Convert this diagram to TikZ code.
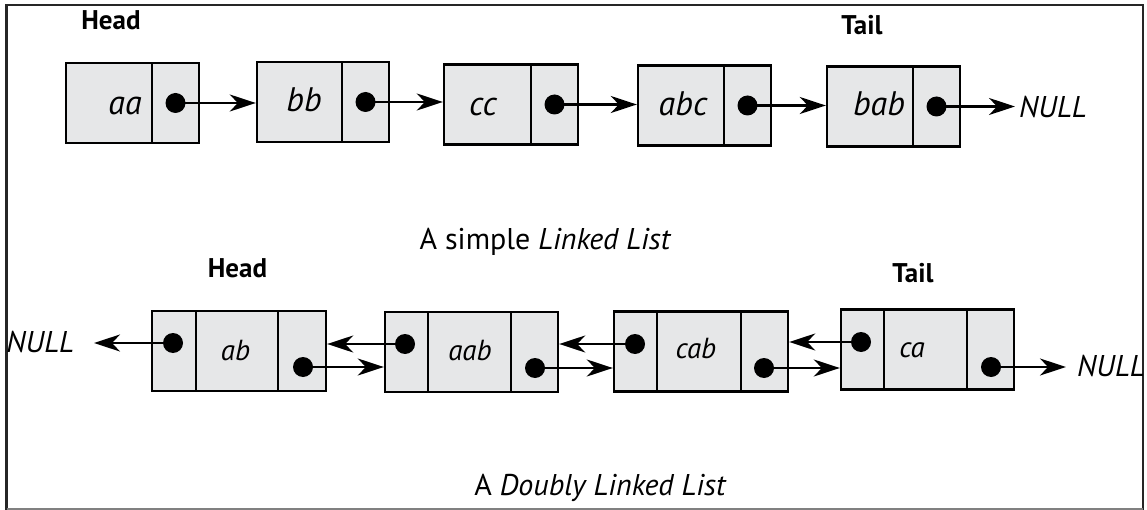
\documentclass[tikz,border=0pt]{standalone}
\usepackage{fontspec}
\setmainfont{PT Sans}
\usetikzlibrary{arrows.meta}
\definecolor{cellgray}{HTML}{E6E7E8}
\begin{document}
\begin{tikzpicture}[x=1pt,y=-1pt,
  cell/.style={draw=black, line width=2.4pt, fill=cellgray, inner sep=0pt, minimum height=80pt},
  ptr/.style={circle, fill=black, inner sep=0pt, minimum size=20pt},
  arr/.style={line width=2.2pt, -{Stealth[length=26pt,width=17pt,inset=8pt]}},
  val/.style={anchor=base, inner sep=0pt, font=\fontsize{34}{38}\selectfont\itshape},
  valb/.style={anchor=base, inner sep=0pt, font=\fontsize{29}{32}\selectfont\itshape},
  lbl/.style={anchor=base, inner sep=0pt, font=\fontsize{27}{30}\selectfont\bfseries},
  nul/.style={inner sep=0pt, font=\fontsize{30}{34}\selectfont\itshape},
  captxt/.style={anchor=base, inner sep=0pt, font=\fontsize{30}{34}\selectfont},
  frameline/.style={line width=2.5pt, draw=black!85}]
\useasboundingbox (0,0) rectangle (1147,510);
% frame
\draw[frameline] (6.5,510) -- (6.5,5) -- (1143,5) -- (1143,510);
\draw[line width=1.5pt, draw=black!50] (6.5,509) -- (1143,509);

% ---------- simple linked list ----------
\node[lbl] (headA) at (111,30) {Head};
\node[lbl] (tailA) at (862,35) {Tail};

\node[cell, minimum width=86pt] (aaD) at (109,103) {};
\node[cell, minimum width=47pt] (aaP) at (175.5,103) {};
\node[cell, minimum width=85pt] (bbD) at (299.5,102) {};
\node[cell, minimum width=47pt] (bbP) at (365.5,102) {};
\node[cell, minimum width=87pt] (ccD) at (487.5,104.5) {};
\node[cell, minimum width=47pt] (ccP) at (554.5,104.5) {};
\node[cell, minimum width=86pt] (abcD) at (681,105.5) {};
\node[cell, minimum width=47pt] (abcP) at (747.5,105.5) {};
\node[cell, minimum width=86pt] (babD) at (870,106.5) {};
\node[cell, minimum width=47pt] (babP) at (936.5,106.5) {};

\node[val] (aaT) at (125,115) {aa};
\node[val] (bbT) at (304,112) {bb};
\node[val] (ccT) at (483,116) {cc};
\node[val] (abcT) at (683,116) {abc};
\node[val] (babT) at (879,116) {bab};

\node[ptr] (aaX) at (aaP.center) {};
\node[ptr] (bbX) at (bbP.center) {};
\node[ptr] (ccX) at (ccP.center) {};
\node[ptr] (abcX) at (abcP.center) {};
\node[ptr] (babX) at (babP.center) {};

\node[nul, anchor=base west] (nullA) at (1019,118) {NULL};
\coordinate (nullAtip) at (1015,106.5);

\draw[arr] (aaX.center) -- (aaX -| bbD.west);
\draw[arr] (bbX.center) -- (bbX -| ccD.west);
\draw[arr] (ccX.center) -- (ccX -| abcD.west);
\draw[arr] (abcX.center) -- (abcX -| babD.west);
\draw[arr] (babX.center) -- (nullAtip);

\node[captxt] (capA) at (545.5,250) {A simple \textit{Linked List}};

% ---------- doubly linked list ----------
\node[lbl] (headB) at (237.5,277) {Head};
\node[lbl] (tailB) at (913,283) {Tail};

\node[cell, minimum width=44pt] (abL) at (174,351) {};
\node[cell, minimum width=82pt] (abM) at (237,351) {};
\node[cell, minimum width=48pt] (abR) at (302,351) {};
\node[cell, minimum width=43pt] (aabL) at (406.5,352) {};
\node[cell, minimum width=83pt] (aabM) at (469.5,352) {};
\node[cell, minimum width=47pt] (aabR) at (534.5,352) {};
\node[cell, minimum width=43pt] (cabL) at (635.5,351.5) {};
\node[cell, minimum width=84pt] (cabM) at (699,351.5) {};
\node[cell, minimum width=47pt] (cabR) at (764.5,351.5) {};
\node[cell, minimum width=43pt] (caL) at (862.5,349.5) {};
\node[cell, minimum width=83pt] (caM) at (925.5,349.5) {};
\node[cell, minimum width=47pt] (caR) at (990.5,349.5) {};

\node[valb] (abT) at (235.5,360) {ab};
\node[valb] (aabT) at (470,360) {aab};
\node[valb] (cabT) at (696,358) {cab};
\node[valb] (caT) at (912,357) {ca};

\node[ptr] (abLX) at (173,343) {};
\node[ptr] (abRX) at (303,367) {};
\node[ptr] (aabLX) at (405,344) {};
\node[ptr] (aabRX) at (535,368) {};
\node[ptr] (cabLX) at (635,344) {};
\node[ptr] (cabRX) at (764,368) {};
\node[ptr] (caLX) at (861,342) {};
\node[ptr] (caRX) at (991,367) {};

\node[nul, anchor=base east] (nullB) at (74,352) {NULL};
\coordinate (nullBtip) at (94,343);
\node[nul, anchor=base west] (nullC) at (1077,376) {NULL};
\coordinate (nullCtip) at (1066,367);

\draw[arr] (abLX.center) -- (nullBtip);
\draw[arr] (aabLX.center) -- (aabLX -| abR.east);
\draw[arr] (cabLX.center) -- (cabLX -| aabR.east);
\draw[arr] (caLX.center) -- (caLX -| cabR.east);
\draw[arr] (abRX.center) -- (abRX -| aabL.west);
\draw[arr] (aabRX.center) -- (aabRX -| cabL.west);
\draw[arr] (cabRX.center) -- (cabRX -| caL.west);
\draw[arr] (caRX.center) -- (nullCtip);

\node[captxt] (capB) at (600.5,495) {A \textit{Doubly Linked List}};
\end{tikzpicture}
\end{document}
